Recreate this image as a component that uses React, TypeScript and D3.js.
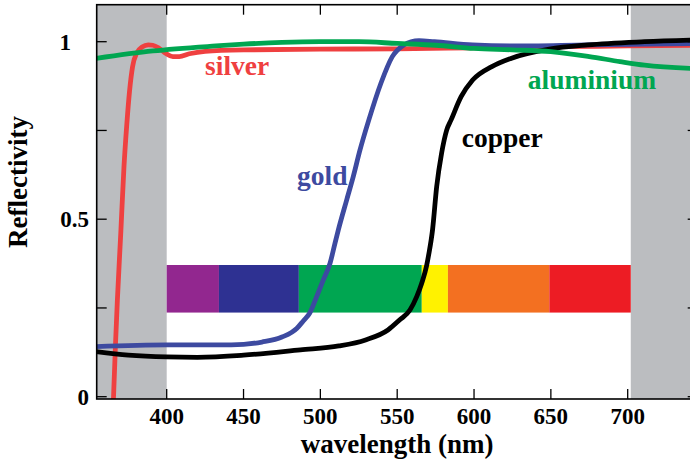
import React from "react";
import * as d3 from "d3";

// ---- data ----
const X_TICKS = [400, 450, 500, 550, 600, 650, 700];
const Y_TICKS = [0, 0.25, 0.5, 0.75, 1];
const Y_TICK_LABELS = [
  { v: 0, t: "0" },
  { v: 0.5, t: "0.5" },
  { v: 1, t: "1" },
];
const VISIBLE_RANGE = [400, 702]; // unshaded wavelength range
const BAND_EDGES = [400, 434, 486, 566, 583, 649, 702];
const BAND_COLORS = ["#92278F", "#2E3192", "#00A651", "#FFF200", "#F37021", "#ED1C24"];
const BAND_REFL = [0.237, 0.371];

const silver: [number, number][] = [
  [364.8, -0.05], [365.4, 0.0], [366.6, 0.14], [367.9, 0.272], [370.1, 0.46], [372.2, 0.648],
  [374.0, 0.765], [375.8, 0.86], [377.8, 0.93], [380.5, 0.968], [384, 0.985], [388, 0.991],
  [391, 0.99], [395.2, 0.981], [399.5, 0.967], [404, 0.958], [408.2, 0.958], [414.7, 0.966],
  [425, 0.973], [450, 0.977], [500, 0.979], [550, 0.98], [600, 0.983], [650, 0.986],
  [700, 0.988], [746, 0.99],
];
const gold: [number, number][] = [
  [354, 0.141], [400, 0.146], [442, 0.146], [462, 0.154], [475, 0.168], [484.6, 0.192],
  [489, 0.214], [493, 0.235], [497.6, 0.282], [502, 0.33], [506.3, 0.376], [509.5, 0.432],
  [511.7, 0.47], [517.1, 0.554], [521.4, 0.62], [525.8, 0.695], [531.5, 0.779], [539.4, 0.883],
  [546.8, 0.958], [554.3, 0.991], [559, 1.0], [564.2, 1.003], [574.2, 1.0], [599, 0.991],
  [624, 0.988], [674, 0.991], [746, 0.995],
];
const copper: [number, number][] = [
  [354, 0.127], [375, 0.117], [400, 0.112], [420, 0.111], [450, 0.117], [487, 0.132],
  [512, 0.143], [529.4, 0.16], [544, 0.188], [551.5, 0.216], [558.3, 0.244], [562.7, 0.282],
  [565.9, 0.319], [569.2, 0.37], [570.5, 0.4], [573, 0.47], [575.7, 0.592], [578.9, 0.686],
  [582.2, 0.751], [585, 0.779], [591.6, 0.845], [599.1, 0.892], [611.6, 0.93], [624, 0.953],
  [649, 0.979], [674, 0.991], [711, 1.0], [746, 1.005],
];
const aluminium: [number, number][] = [
  [354, 0.953], [391, 0.974], [432, 0.988], [450, 0.993], [475, 0.998], [500, 1.0],
  [525, 1.0], [550, 0.995], [575, 0.99], [600, 0.981], [625, 0.977], [650, 0.972],
  [675, 0.958], [695, 0.944], [711, 0.934], [746, 0.924],
];

const SERIES = [
  { name: "silver", data: silver, color: "#EF4040", label: [425, 0.906] },
  { name: "gold", data: gold, color: "#3D4AA0", label: [484.8, 0.596] },
  { name: "copper", data: copper, color: "#000000", label: [592, 0.703] },
  { name: "aluminium", data: aluminium, color: "#00A651", label: [635, 0.867] },
];

// ---- layout ----
const W = 690;
const H = 468;
const LEFT = 96.7;
const RIGHT = 697.7;
const TOP = 4.7;
const BOTTOM = 399;
const FONT = "'Liberation Serif', 'Times New Roman', serif";

export default function App() {
  const x = d3.scaleLinear().domain([400, 700]).range([166.7, 627.7]);
  const y = d3.scaleLinear().domain([0, 1]).range([396.7, 41.7]);

  const line = d3
    .line<[number, number]>()
    .x((d) => x(d[0]))
    .y((d) => y(d[1]))
    .curve(d3.curveMonotoneX);

  const tickLen = 10;

  return (
    <svg
      width={W}
      height={H}
      style={{ position: "absolute", left: 0, top: 0, display: "block", background: "#fff" }}
      fontFamily={FONT}
      fontWeight="bold"
    >
      <defs>
        <clipPath id="plot">
          <rect x={LEFT} y={TOP} width={RIGHT - LEFT} height={BOTTOM - TOP} />
        </clipPath>
      </defs>

      {/* shaded invisible regions */}
      <rect x={LEFT} y={TOP} width={x(VISIBLE_RANGE[0]) - LEFT} height={BOTTOM - TOP} fill="#BBBDC0" />
      <rect
        x={x(VISIBLE_RANGE[1])}
        y={TOP}
        width={RIGHT - x(VISIBLE_RANGE[1])}
        height={BOTTOM - TOP}
        fill="#BBBDC0"
      />

      {/* spectrum bar */}
      {BAND_COLORS.map((c, i) => (
        <rect
          key={c}
          x={x(BAND_EDGES[i])}
          y={y(BAND_REFL[1])}
          width={x(BAND_EDGES[i + 1]) - x(BAND_EDGES[i])}
          height={y(BAND_REFL[0]) - y(BAND_REFL[1])}
          fill={c}
        />
      ))}

      {/* curves */}
      <g clipPath="url(#plot)">
        {SERIES.map((s) => (
          <path
            key={s.name}
            d={line(s.data) || ""}
            fill="none"
            stroke={s.color}
            strokeWidth={4.8}
            strokeLinejoin="round"
          />
        ))}
      </g>

      {/* curve labels */}
      {SERIES.map((s) => (
        <text key={s.name} x={x(s.label[0])} y={y(s.label[1])} fill={s.color} fontSize={27.5}>
          {s.name}
        </text>
      ))}

      {/* frame */}
      <rect x={LEFT} y={TOP} width={RIGHT - LEFT} height={BOTTOM - TOP} fill="none" stroke="#000" strokeWidth={1.6} />

      {/* x ticks */}
      {X_TICKS.map((t) => (
        <g key={t}>
          <line x1={x(t)} x2={x(t)} y1={BOTTOM} y2={BOTTOM - tickLen} stroke="#000" strokeWidth={1.3} />
          <line x1={x(t)} x2={x(t)} y1={TOP} y2={TOP + tickLen} stroke="#000" strokeWidth={1.3} />
          <text x={x(t)} y={424} textAnchor="middle" fontSize={23} fill="#000">
            {t}
          </text>
        </g>
      ))}

      {/* y ticks */}
      {Y_TICKS.map((t) => (
        <g key={t}>
          <line x1={LEFT} x2={LEFT + tickLen} y1={y(t)} y2={y(t)} stroke="#000" strokeWidth={1.3} />
          <line x1={RIGHT} x2={RIGHT - tickLen} y1={y(t)} y2={y(t)} stroke="#000" strokeWidth={1.3} />
        </g>
      ))}
      {Y_TICK_LABELS.map((t) => (
        <text
          key={t.t}
          x={t.t === "1" ? 71 : 89}
          y={y(t.v) + 8}
          textAnchor="end"
          fontSize={23}
          fill="#000"
        >
          {t.t}
        </text>
      ))}

      {/* axis titles */}
      <text x={(LEFT + RIGHT) / 2} y={453} textAnchor="middle" fontSize={27} fill="#000">
        wavelength (nm)
      </text>
      <text
        transform={`translate(27, 182) rotate(-90)`}
        textAnchor="middle"
        fontSize={27}
        fill="#000"
      >
        Reflectivity
      </text>
    </svg>
  );
}
